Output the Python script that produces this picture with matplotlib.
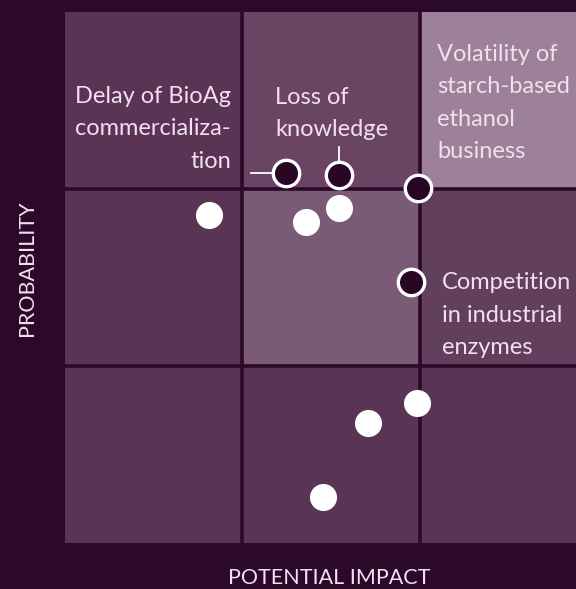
import matplotlib.pyplot as plt
import numpy as np
from matplotlib.colors import ListedColormap

BG = '#2c0829'
TXT = '#f2dff0'

# cell shades, rows from bottom (low probability) to top, columns low -> high impact
cell_colors = ['#5a3454', '#6a4563', '#7a5a74', '#62405d', '#9c8198']
cell_index = [[0, 0, 0],
              [0, 2, 3],
              [0, 1, 4]]

# risks shown as open dots (named) and plain white dots
named_x = [1.247, 1.544, 1.987, 1.948]
named_y = [2.089, 2.079, 2.007, 1.476]
plain_x = [0.811, 1.358, 1.544, 1.985, 1.709, 1.455]
plain_y = [1.853, 1.811, 1.890, 0.789, 0.680, 0.258]

labels = ["Delay of BioAg\ncommercializa-\ntion", "Loss of\nknowledge",
          "Volatility of\nstarch-based\nethanol\nbusiness", "Competition\nin industrial\nenzymes"]
label_x = [0.935, 1.183, 2.096, 2.124]
label_y = [2.339, 2.429, 2.486, 1.288]
label_ha = ['right', 'left', 'left', 'left']

plt.rcParams['font.family'] = ['Lato', 'DejaVu Sans']

fig = plt.figure(figsize=(5.76, 5.89), dpi=100, facecolor=BG)
ax = fig.add_axes([65 / 576, 46 / 589, 511 / 576, 531 / 589])
ax.set_facecolor(BG)

cmap = ListedColormap(cell_colors)
ax.pcolormesh(np.arange(4), np.arange(4), np.array(cell_index), cmap=cmap,
              vmin=-0.5, vmax=len(cell_colors) - 0.5, shading='flat')
for v in [1, 2]:
    ax.axvline(v, color=BG, lw=2.6, zorder=2)
    ax.axhline(v, color=BG, lw=2.6, zorder=2)

# leader lines
ax.plot([1.048, named_x[0]], [named_y[0], named_y[0]], color='white', lw=1.3, zorder=3)
ax.plot([named_x[1], named_x[1]], [2.239, named_y[1]], color='white', lw=1.3, zorder=3)

ax.plot(plain_x, plain_y, 'o', ms=19.5, mfc='white', mec='none', zorder=4)
ax.plot(named_x, named_y, 'o', ms=19, mfc='#2a0625', mec='white', mew=2.4, zorder=4)

for t, x, y, ha in zip(labels, label_x, label_y, label_ha):
    ax.text(x, y, t, ha=ha, va='center', multialignment=ha, color=TXT,
            fontsize=17, linespacing=1.65, zorder=5)

ax.set_xlim(0, 511 / 177.5)
ax.set_ylim(0, 3)
ax.set_xticks([])
ax.set_yticks([])
for s in ax.spines.values():
    s.set_visible(False)

fig.text(329 / 576, 1 - 578 / 589, "POTENTIAL IMPACT", ha='center', va='center',
         color=TXT, fontsize=15.5)
fig.text(27 / 576, 1 - 268 / 589, "PROBABILITY", ha='center', va='center',
         rotation=90, color=TXT, fontsize=15.5)

fig.savefig('out.png', dpi=100, facecolor=BG)
